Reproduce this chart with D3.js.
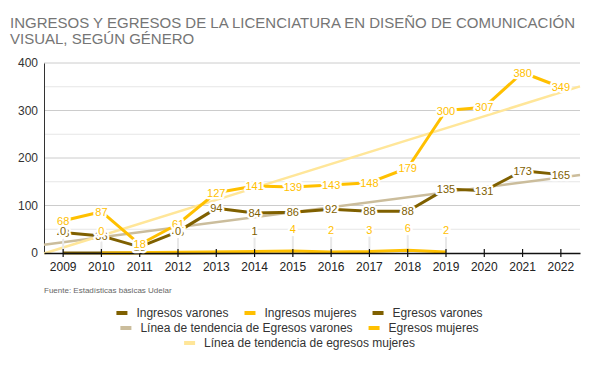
<!DOCTYPE html>
<html lang="es">
<head>
  <meta charset="UTF-8">
  <title>Ingresos y egresos - Diseño de Comunicación Visual</title>
  <script src="https://d3js.org/d3.v7.min.js"></script>
  <style>
    body { margin: 0; background: #fff; }
    svg text { font-family: "Liberation Sans", Arial, sans-serif; }
  </style>
</head>
<body>
  <div id="chart"></div>
  <script>
    // datos
    const years = ["2009", "2010", "2011", "2012", "2013", "2014", "2015", "2016", "2017", "2018", "2019", "2020", "2021", "2022"];
    const ingresosVarones = [43, 36, 13, 45, 94, 84, 86, 92, 88, 88, 135, 131, 173, 165];
    const ingresosMujeres = [68, 87, 18, 61, 127, 141, 139, 143, 148, 179, 300, 307, 380, 349];
    const egresosVarones = [0, null, null, 0, null, 1, null, null, null, null, null, null, null, null];
    const egresosMujeres = [null, 0, null, null, null, null, 4, 2, 3, 6, 2, null, null, null];
    const yTicks = [0, 100, 200, 300, 400];

    const brown = "#7f6000", gold = "#ffc000", tan = "#cbbd9c", pale = "#ffe699";

    const width = 595, height = 366;
    const margin = { left: 44, right: 15, top: 63, bottom: 113 };

    const svg = d3.select("#chart").append("svg")
      .attr("width", width)
      .attr("height", height);

    // titulo
    const title = svg.append("text")
      .attr("x", 10).attr("y", 28)
      .attr("fill", "#757575")
      .style("font-size", "15px");
    title.append("tspan").attr("x", 10).text("INGRESOS Y EGRESOS DE LA LICENCIATURA EN DISEÑO DE COMUNICACIÓN");
    title.append("tspan").attr("x", 10).attr("dy", 16).text("VISUAL, SEGÚN GÉNERO");

    const x = d3.scaleBand()
      .domain(years)
      .range([margin.left, width - margin.right]);

    const y = d3.scaleLinear()
      .domain([0, 400])
      .range([height - margin.bottom, margin.top]);

    const xc = i => x(years[i]) + x.bandwidth() / 2;

    // grilla
    svg.append("g").selectAll("line")
      .data(d3.range(50, 401, 50))
      .join("line")
      .attr("x1", margin.left).attr("x2", width - margin.right)
      .attr("y1", d => y(d)).attr("y2", d => y(d))
      .attr("stroke", d => d % 100 === 0 ? "#cccccc" : "#e6e6e6")
      .attr("stroke-width", 1);

    // eje y
    const yAxis = svg.append("g")
      .attr("transform", `translate(${margin.left},0)`)
      .call(d3.axisLeft(y).tickValues(yTicks).tickSize(0).tickPadding(6));
    yAxis.select(".domain").attr("stroke", "#333");
    yAxis.selectAll("text").style("font-size", "12px").attr("fill", "#333").style("font-family", "Liberation Sans, Arial, sans-serif");

    // lineas de tendencia (regresion lineal)
    function trend(values) {
      const n = values.length;
      const mx = d3.mean(values, (v, i) => i);
      const my = d3.mean(values);
      let sxy = 0, sxx = 0;
      values.forEach((v, i) => { sxy += (i - mx) * (v - my); sxx += (i - mx) * (i - mx); });
      const b = sxy / sxx, a = my - b * mx;
      return [-0.5, n - 0.5].map(t => ({ t, v: a + b * t }));
    }
    const step = x.step();
    const trendLine = d3.line()
      .x(d => x(years[0]) + (d.t + 0.5) * step)
      .y(d => y(d.v));

    svg.append("path").datum(trend(ingresosVarones))
      .attr("d", trendLine).attr("fill", "none")
      .attr("stroke", tan).attr("stroke-width", 2.5);
    svg.append("path").datum(trend(ingresosMujeres))
      .attr("d", trendLine).attr("fill", "none")
      .attr("stroke", pale).attr("stroke-width", 2.5);

    // guias de etiquetas de egresos
    const egresosPts = [];
    egresosVarones.forEach((v, i) => { if (v !== null) egresosPts.push({ i, v, color: brown }); });
    egresosMujeres.forEach((v, i) => { if (v !== null) egresosPts.push({ i, v, color: gold }); });

    svg.append("g").selectAll("line")
      .data(egresosPts)
      .join("line")
      .attr("x1", d => xc(d.i)).attr("x2", d => xc(d.i))
      .attr("y1", d => y(d.v) - 15).attr("y2", d => y(d.v))
      .attr("stroke", "#e8e8e8").attr("stroke-width", 2);

    // series
    const line = d3.line()
      .x(d => xc(d.i))
      .y(d => y(d.v));

    const toPts = arr => arr.map((v, i) => ({ i, v })).filter(d => d.v !== null);

    const series = [
      { values: ingresosVarones, color: brown },
      { values: ingresosMujeres, color: gold },
      { values: egresosVarones, color: brown },
      { values: egresosMujeres, color: gold }
    ];

    series.forEach(s => {
      svg.append("path").datum(toPts(s.values))
        .attr("d", line).attr("fill", "none")
        .attr("stroke", s.color).attr("stroke-width", 3)
        .attr("stroke-linejoin", "round");
    });

    // eje x
    const xAxis = svg.append("g")
      .attr("transform", `translate(0,${y(0)})`)
      .call(d3.axisBottom(x).tickSize(0).tickPadding(9));
    xAxis.select(".domain").attr("stroke", "#111").attr("stroke-width", 1.5);
    xAxis.selectAll("text").style("font-size", "12px").attr("fill", "#222").style("font-family", "Liberation Sans, Arial, sans-serif");
    xAxis.selectAll(".tick").append("line")
      .attr("y1", -4).attr("y2", 4)
      .attr("stroke", "#111").attr("stroke-width", 1.2);

    // etiquetas de datos
    function labels(pts, color, dy) {
      const g = svg.append("g");
      const t = g.selectAll("text")
        .data(pts)
        .join("text")
        .attr("x", d => xc(d.i))
        .attr("y", d => y(d.v) + dy)
        .attr("text-anchor", "middle")
        .attr("dominant-baseline", "central")
        .style("font-size", "11px");
      t.clone(true).lower()
        .attr("stroke", "#fff").attr("stroke-width", 4.5)
        .attr("stroke-linejoin", "round").attr("fill", "#fff")
        .text(d => d.v);
      t.attr("fill", color).text(d => d.v);
    }
    labels(toPts(ingresosVarones), brown, 0);
    labels(toPts(ingresosMujeres), gold, 0);
    labels(toPts(egresosVarones), brown, -22);
    labels(toPts(egresosMujeres), gold, -22);

    // fuente
    svg.append("text")
      .attr("x", 44).attr("y", 293)
      .attr("fill", "#666")
      .style("font-size", "8px")
      .text("Fuente: Estadísticas básicas Udelar");

    // leyenda
    const legendRows = [
      [["Ingresos varones", brown], ["Ingresos mujeres", gold], ["Egresos varones", brown]],
      [["Línea de tendencia de Egresos varones", tan], ["Egresos mujeres", gold]],
      [["Línea de tendencia de egresos mujeres", pale]]
    ];
    const legend = svg.append("g");
    legendRows.forEach((row, r) => {
      const ry = 313 + r * 15;
      const g = legend.append("g");
      let cx = 0;
      row.forEach(([label, color]) => {
        g.append("rect").attr("x", cx).attr("y", ry - 2).attr("width", 11).attr("height", 4).attr("fill", color);
        const t = g.append("text").attr("x", cx + 20).attr("y", ry)
          .attr("dominant-baseline", "central")
          .attr("fill", "#333").style("font-size", "12px").text(label);
        cx += 20 + t.node().getComputedTextLength() + 16;
      });
      const w = cx - 16;
      g.attr("transform", `translate(${(width - w) / 2 + 2},0)`);
    });
  </script>
</body>
</html>
